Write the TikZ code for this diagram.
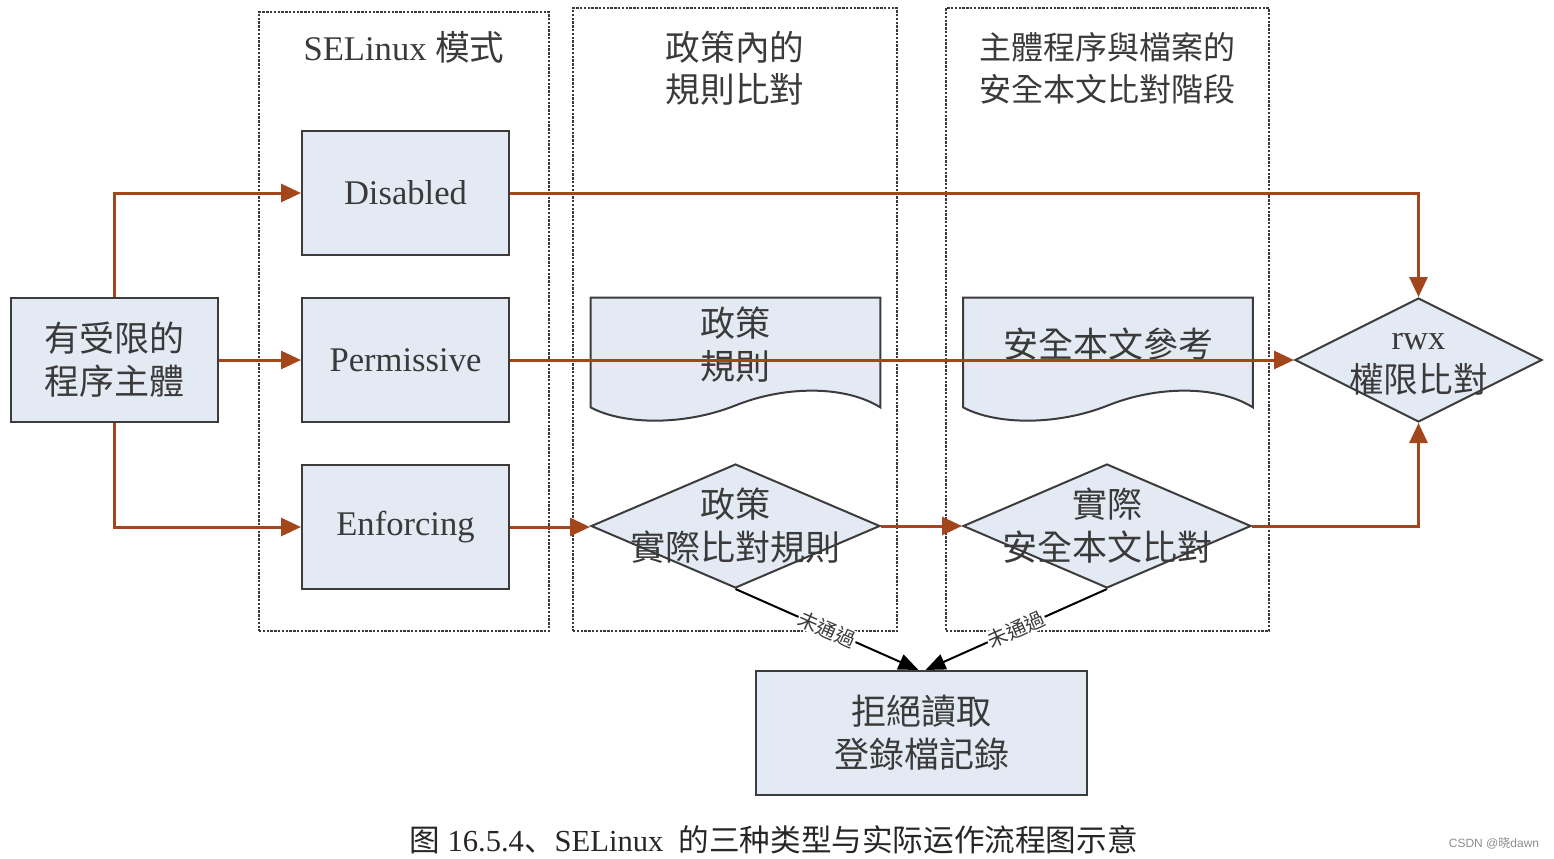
\documentclass[tikz,border=0pt]{standalone}
\usepackage{fontspec}
\setmainfont{Liberation Serif}
\setsansfont{Liberation Sans}
\newfontfamily\cjk{Noto Sans CJK TC}
\newfontfamily\cjksc{Noto Sans CJK SC}
\usetikzlibrary{positioning, arrows.meta, shapes.geometric, backgrounds, calc}
\definecolor{flowbrown}{HTML}{A3461C}
\definecolor{boxfill}{HTML}{E4EAF4}
\definecolor{boxline}{HTML}{3C3C3C}
\definecolor{inktext}{HTML}{3A3A3A}
\definecolor{panelline}{HTML}{3A3A3A}

\begin{document}
\begin{tikzpicture}[
  x=0.5pt, y=-0.5pt,
  every node/.style={font=\fontsize{17.3}{21.5}\selectfont, text=inktext},
  zhtext/.style={font=\cjk\fontsize{17.5}{21.5}\selectfont, align=center},
  block/.style={
    draw=boxline, fill=boxfill, line width=1pt,
    minimum width=103.5pt, minimum height=62pt, inner sep=0pt, align=center,
  },
  decision/.style={
    diamond, draw=boxline, fill=boxfill, line width=1pt,
    inner sep=0pt, minimum width=#1, minimum height=62pt,
  },
  docshape/.style={minimum width=144.5pt, minimum height=54.5pt, inner sep=0pt},
  panel/.style={
    draw=panelline, line width=0.75pt, dash pattern=on 1.2pt off 0.7pt,
    inner sep=0pt,
  },
  flow/.style={-{Triangle[length=10pt,width=9pt]}, line width=1.5pt, flowbrown},
  fail/.style={-{Triangle[length=10pt,width=8pt]}, line width=1pt, black},
  failtext/.style={font=\cjk\fontsize{10}{11}\selectfont, fill=white,
    inner sep=0.5pt, sloped},
]
\useasboundingbox (0,0) rectangle (1554,858);

% === STAGE PANELS ===
\node[panel, minimum width=145pt, minimum height=309.5pt] (modepanel) at (404,321.5) {};
\node[panel, minimum width=162pt, minimum height=311.5pt] (rulepanel) at (735,319.5) {};
\node[panel, minimum width=161.5pt, minimum height=311.5pt] (ctxpanel) at (1107.5,319.5) {};

\node at ($(modepanel.north)+(0,36)$) (modetitle) {SELinux {\cjk 模式}};
\node[zhtext, font=\cjk\fontsize{17.3}{21}\selectfont] at ($(rulepanel.north)+(0,61)$) (ruletitle) {政策內的\\規則比對};
\node[zhtext, font=\cjk\fontsize{16}{21}\selectfont] at ($(ctxpanel.north)+(0,61)$) (ctxtitle) {主體程序與檔案的\\安全本文比對階段};

% === SUBJECT AND MODES ===
\node[block, zhtext] (subj) at (114.5,360) {有受限的\\程序主體};
\node[block, right=41pt of subj] (perm) {Permissive};
\node[block, above=20.5pt of perm] (dis) {Disabled};
\node[block, below=20.5pt of perm] (enf) {Enforcing};

% === RULES AND CONTEXTS ===
\node[docshape] (ruledoc) at (735.5,352.5) {};
\node[docshape] (ctxdoc) at (1108,352.5) {};
\node[zhtext, yshift=4pt] at (ruledoc) (ruledoctext) {政策\\規則};
\node[zhtext, yshift=4pt] at (ctxdoc) (ctxdoctext) {安全本文參考};

\begin{scope}[on background layer]
  \foreach \d in {ruledoc, ctxdoc} {
    \draw[draw=boxline, fill=boxfill, line width=1pt]
      (\d.south west) -- (\d.north west) -- (\d.north east) -- (\d.south east)
      .. controls ($(\d.south east)+(-35,-22)$) and ($(\d.south east)+(-95,-22)$) .. ($(\d.south)+(0,-2)$)
      .. controls ($(\d.south)+(-50,18)$) and ($(\d.south west)+(34,18)$) .. (\d.south west) -- cycle;
  }
\end{scope}

\node[decision=144.5pt, label={[zhtext]center:{政策\\實際比對規則}}] (ruledec) at (735.5,526) {};
\node[decision=144pt, label={[zhtext]center:{實際\\安全本文比對}}] (ctxdec) at (1107,526) {};
\node[decision=123.5pt, label={[align=center, yshift=-2pt]center:{rwx\\{\cjk 權限比對}}}] (rwx) at (1418.5,360) {};

\node[block, zhtext, minimum width=165.5pt] (deny) at (921.5,733) {拒絕讀取\\登錄檔記錄};

% === FLOWS ===
\draw[flow] (subj.north) |- (dis.west);
\draw[flow] (subj) -- (perm);
\draw[flow] (subj.south) |- (enf.west);
\draw[flow] (dis.east) -| (rwx.north);
\draw[flow] (perm) -- (rwx);
\draw[flow] (enf.east) -- (enf.east -| ruledec.west);
\draw[flow] (ruledec) -- (ctxdec);
\draw[flow] (ctxdec.east) -| (rwx.south);

\draw[fail] (ruledec.south) -- node[failtext] {未通過} ($(deny.north)+(-3,0)$);
\draw[fail] (ctxdec.south) -- node[failtext] {未通過} ($(deny.north)+(4,0)$);

% === CAPTION ===
\node[font=\fontsize{15.3}{17}\selectfont, text=black!85] (caption) at (773.5,840)
  {{\cjksc 图} 16.5.4{\cjksc 、}SELinux\ \ {\cjksc 的三种类型与实际运作流程图示意}};
\node[font=\sffamily\fontsize{6}{7}\selectfont, text=black!45] (mark) at (1494,843)
  {CSDN @{\cjksc 晓}dawn};

\end{tikzpicture}
\end{document}
